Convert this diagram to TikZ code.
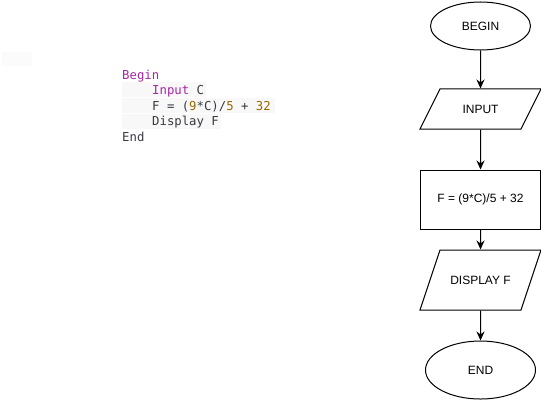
\documentclass[tikz,border=0pt]{standalone}
\usepackage{fontspec}
\setmainfont{Liberation Sans}
\newfontfamily\codefont{DejaVu Sans Mono}
\usepackage{tikz}
\usetikzlibrary{positioning}
\usetikzlibrary{shapes.geometric,arrows.meta}
\definecolor{kwpurple}{HTML}{A626A4}
\definecolor{numbrown}{HTML}{986801}
\definecolor{codegray}{HTML}{383A42}
\definecolor{stripgray}{HTML}{F8F8F8}
\tikzstyle{termblock} = [ellipse, draw=black, line width=1pt, minimum width=100pt, minimum height=48pt, inner sep=0pt, font=\fontsize{12}{14}\selectfont]
\tikzstyle{ioblock} = [trapezium, trapezium stretches body, draw=black, line width=1pt, minimum width=121pt, text height=9pt, text depth=0pt, inner xsep=0pt, inner ysep=15.5pt, font=\fontsize{12}{14}\selectfont]
\tikzstyle{procblock} = [rectangle, draw=black, line width=1pt, minimum width=120pt, minimum height=59pt, inner sep=0pt, font=\fontsize{12}{14}\selectfont]
\tikzstyle{codeline} = [anchor=base west, inner sep=0pt, text=codegray, font=\codefont\fontsize{12.3}{15}\selectfont]
\tikzstyle{line} = [draw, line width=1pt, -{Stealth[length=9pt,width=8pt]}]

\begin{document}
\begin{tikzpicture}[x=1pt, y=-1pt]
				\useasboundingbox (0,0) rectangle (541,411);
				% Code background
				\fill [stripgray!60] (2,52) rectangle (32,66);
				\fill [stripgray] (122,82) rectangle (206,97.5);
				\fill [stripgray] (122,98) rectangle (275,113.5);
				\fill [stripgray] (122,114) rectangle (221,129.5);
				% Code lines
				\node [codeline] (beginln) at (122,79.5) {\textcolor{kwpurple}{Begin}};
				\node [codeline] (inputln) at (152,95) {\textcolor{kwpurple}{Input} C};
				\node [codeline] (formulaln) at (152,110.5) {F = (\textcolor{numbrown}{9}*C)/\textcolor{numbrown}{5} + \textcolor{numbrown}{32}};
				\node [codeline] (displayln) at (152,126) {Display F};
				\node [codeline] (endln) at (122,141.5) {End};
				% Place nodes
				\node [termblock] (begin) at (480.5,26) {BEGIN};
				\node [ioblock, trapezium left angle=63.43, trapezium right angle=116.57, below = 38pt of begin] (input) {INPUT};
				\node [procblock, below = 40pt of input] (calc) {F = (9*C)/5 + 32};
				\node [ioblock, trapezium left angle=71.57, trapezium right angle=108.43, inner ysep=25.5pt, below = 20pt of calc] (display) {DISPLAY F};
				\node [termblock, minimum width=110pt, minimum height=58pt, below = 30pt of display] (end) {END};
				\path [line] (begin) -- (input);
				\path [line] (input) -- (calc);
				\path [line] (calc) -- (display);
				\path [line] (display) -- (end);
\end{tikzpicture}
\end{document}
